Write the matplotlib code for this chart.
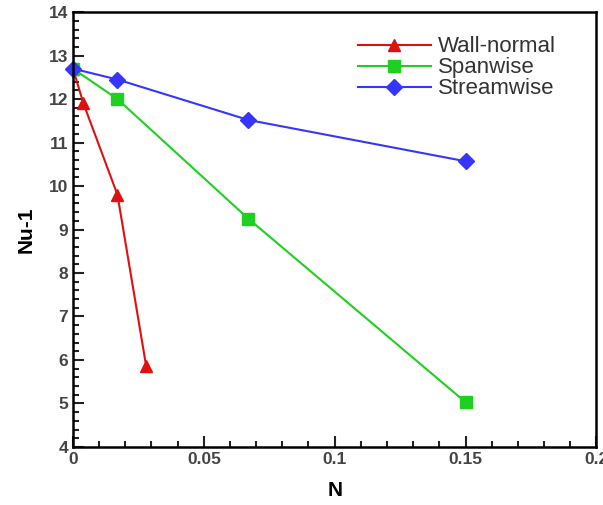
import matplotlib
matplotlib.use("Agg")
import matplotlib.pyplot as plt
from matplotlib.ticker import MultipleLocator

plt.rcParams["font.family"] = ["Liberation Sans", "DejaVu Sans"]

# data
n_wall = [0.0, 0.004, 0.017, 0.028]
nu_wall = [12.7, 11.9, 9.8, 5.85]

n_span = [0.0, 0.017, 0.067, 0.15]
nu_span = [12.7, 12.0, 9.25, 5.03]

n_stream = [0.0, 0.017, 0.067, 0.15]
nu_stream = [12.7, 12.45, 11.52, 10.57]

fig = plt.figure(figsize=(6.03, 5.05), dpi=100)
ax = fig.add_axes([0.121, 0.115, 0.868, 0.861])

ax.plot(n_wall, nu_wall, color="#e01010", lw=1.5, marker="^", ms=9,
        label="Wall-normal")
ax.plot(n_span, nu_span, color="#20d020", lw=1.5, marker="s", ms=8,
        label="Spanwise")
ax.plot(n_stream, nu_stream, color="#3535ff", lw=1.5, marker="D", ms=8,
        label="Streamwise", clip_on=False)

ax.set_xlim(0, 0.2)
ax.set_ylim(4, 14)
ax.xaxis.set_major_locator(MultipleLocator(0.05))
ax.xaxis.set_minor_locator(MultipleLocator(0.01))
ax.yaxis.set_major_locator(MultipleLocator(1))
ax.yaxis.set_minor_locator(MultipleLocator(0.2))
ax.xaxis.set_major_formatter(plt.FuncFormatter(lambda v, p: f"{v:g}"))

ax.tick_params(which="both", direction="in", top=False, right=False,
               labelsize=12.5, colors="#222222", width=1.5)
ax.tick_params(which="major", length=8)
ax.tick_params(which="minor", length=4)
for lab in ax.get_xticklabels() + ax.get_yticklabels():
    lab.set_fontweight("bold")
    lab.set_color("#444444")

for s in ax.spines.values():
    s.set_linewidth(1.8)

ax.set_xlabel("N", fontsize=15, fontweight="bold", labelpad=10)
ax.set_ylabel("Nu-1", fontsize=15, fontweight="bold", labelpad=9)

ax.legend(loc="upper left", bbox_to_anchor=(0.544, 0.944), frameon=False,
          fontsize=16, handlelength=3.3, labelspacing=0.0, borderpad=0,
          borderaxespad=0, handletextpad=0.3, labelcolor="#333333")

fig.savefig("out.png", dpi=100)
